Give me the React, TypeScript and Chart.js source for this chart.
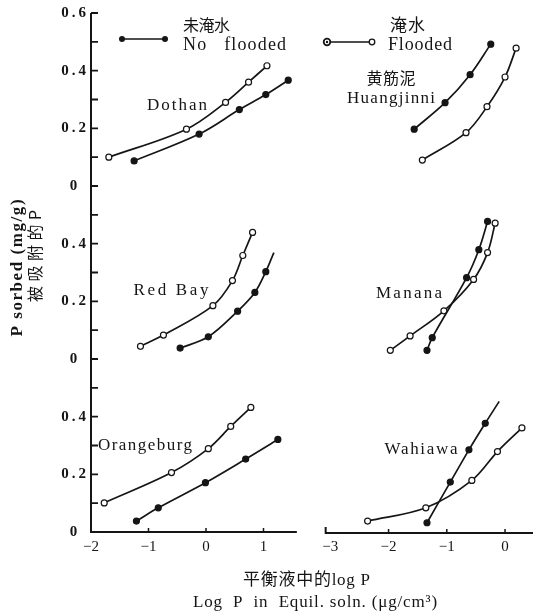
import React, { useEffect, useRef } from 'react';
import { Chart, registerables } from 'chart.js';

Chart.register(...registerables);

type P = [number, number];

// x tick values of the two columns, y tick values of each panel (0 to 0.6 step 0.1)
const leftXTicks = [-2, -1, 0, 1];
const rightXTicks = [-3, -2, -1, 0];
const yTicks = [0, 0.1, 0.2, 0.3, 0.4, 0.5, 0.6];
const yLabelled = [0, 0.2, 0.4];

// Dothan (top left)
const dothanUnflooded: P[] = [[-1.25, 0.087], [-0.12, 0.18], [0.58, 0.265], [1.04, 0.317], [1.43, 0.367]];
const dothanFlooded: P[] = [[-1.69, 0.1], [-0.34, 0.197], [0.34, 0.29], [0.74, 0.36], [1.06, 0.417]];
// Huangjinni (top right)
const huangUnflooded: P[] = [[-1.56, 0.197], [-1.03, 0.289], [-0.6, 0.386], [-0.245, 0.492]];
const huangFlooded: P[] = [[-1.42, 0.09], [-0.67, 0.185], [-0.31, 0.275], [0.0, 0.378], [0.19, 0.478]];
// Red Bay (middle left)
const redBayUnflooded: P[] = [[-0.45, 0.038], [0.04, 0.077], [0.55, 0.166], [0.85, 0.231], [1.04, 0.303], [1.18, 0.369]];
const redBayFlooded: P[] = [[-1.14, 0.044], [-0.74, 0.083], [0.12, 0.185], [0.46, 0.272], [0.64, 0.359], [0.81, 0.439]];
// Manana (middle right)
const mananaUnflooded: P[] = [[-1.34, 0.03], [-1.25, 0.074], [-0.66, 0.282], [-0.45, 0.379], [-0.3, 0.477]];
const mananaFlooded: P[] = [[-1.97, 0.03], [-1.63, 0.08], [-1.05, 0.167], [-0.54, 0.276], [-0.3, 0.369], [-0.17, 0.471]];
// Orangeburg (bottom left)
const orangeUnflooded: P[] = [[-1.21, 0.038], [-0.83, 0.084], [-0.01, 0.171], [0.69, 0.253], [1.25, 0.321]];
const orangeFlooded: P[] = [[-1.77, 0.101], [-0.6, 0.206], [0.04, 0.289], [0.43, 0.366], [0.78, 0.432]];
// Wahiawa (bottom right)
const wahiawaUnflooded: P[] = [[-1.34, 0.032], [-0.94, 0.173], [-0.62, 0.285], [-0.34, 0.377], [-0.1, 0.453]];
const wahiawaFlooded: P[] = [[-2.36, 0.038], [-1.36, 0.084], [-0.57, 0.179], [-0.13, 0.279], [0.29, 0.361]];

const INK = '#151515';
const SERIF = '"Liberation Serif", "DejaVu Serif", serif';
const CJK = '"Noto Sans CJK SC", sans-serif';

function series(data: P[], filled: boolean, xAxisID: string, yAxisID: string, bareEnd = false) {
  return {
    data: data.map(([x, y]) => ({ x, y })),
    showLine: true,
    borderColor: INK,
    borderWidth: 1.7,
    tension: 0.35,
    pointRadius: data.map((_, i) => (bareEnd && i === data.length - 1 ? 0 : 3)),
    pointBackgroundColor: filled ? INK : '#fff',
    pointBorderColor: INK,
    pointBorderWidth: 1.2,
    xAxisID,
    yAxisID,
    clip: false as const,
  };
}

function yScale(weight: number, isTop: boolean) {
  return {
    type: 'linear' as const,
    position: 'left' as const,
    stack: 'rows',
    stackWeight: 1,
    weight,
    min: 0,
    max: 0.6,
    grid: { display: false, drawTicks: false, tickLength: 0 },
    border: { display: false },
    afterBuildTicks: (s: any) => {
      s.ticks = yTicks.map((v) => ({ value: v }));
    },
    afterFit: (s: any) => {
      s.width = 91;
      s.paddingTop = 0;
      s.paddingBottom = 0;
    },
    ticks: {
      padding: 5,
      crossAlign: 'center' as const,
      color: INK,
      autoSkip: false,
      font: { family: SERIF, size: 15, weight: 'bold' as const },
      callback: (v: any) => {
        const n = Math.round(Number(v) * 10) / 10;
        const fmt = (x: number) => (x === 0 ? '0' : x.toFixed(1).replace('.', '\u2009.\u2009'));
        if (yLabelled.includes(n)) return fmt(n);
        if (isTop && n === 0.6) return fmt(0.6);
        return '';
      },
    },
  };
}

function xScale(min: number, max: number, tickVals: number[], weight: number, stackWeight: number) {
  return {
    type: 'linear' as const,
    position: 'bottom' as const,
    stack: 'cols',
    stackWeight,
    weight,
    min,
    max,
    grid: { display: false, drawTicks: false, tickLength: 0 },
    border: { display: false },
    afterBuildTicks: (s: any) => {
      s.ticks = tickVals.map((v) => ({ value: v }));
    },
    afterFit: (s: any) => {
      s.height = 81;
      s.paddingLeft = 0;
      s.paddingRight = 0;
    },
    ticks: {
      padding: 6,
      color: INK,
      autoSkip: false,
      maxRotation: 0,
      font: { family: SERIF, size: 15 },
      callback: (v: any) => {
        const n = Number(v);
        return n < 0 ? '\u2212' + Math.abs(n) : String(n);
      },
    },
  };
}

function fitText(ctx: any, text: string, cx: number, cy: number, target: number) {
  ctx.letterSpacing = '0px';
  const w = ctx.measureText(text).width;
  const n = Array.from(text).length;
  const ls = n > 1 ? (target - w) / (n - 1) : 0;
  ctx.letterSpacing = ls.toFixed(2) + 'px';
  ctx.textAlign = 'left';
  ctx.fillText(text, cx - target / 2, cy);
  ctx.letterSpacing = '0px';
}

const decor = {
  id: 'decor',
  afterDraw(chart: any) {
    const ctx: any = chart.ctx;
    const sc = chart.scales;
    const area = chart.chartArea;
    ctx.save();
    ctx.strokeStyle = INK;
    ctx.fillStyle = INK;

    // left y axis and inward ticks
    const ax = sc.yTop.right;
    const yTopPx = sc.yTop.getPixelForValue(0.6);
    const yBotPx = sc.yBot.getPixelForValue(0);
    ctx.fillRect(ax - 1, yTopPx, 2, yBotPx - yTopPx + 1);
    ctx.lineWidth = 1.8;
    ctx.beginPath();
    for (const id of ['yTop', 'yMid', 'yBot']) {
      for (const v of yTicks) {
        const py = sc[id].getPixelForValue(v);
        ctx.moveTo(ax, py);
        ctx.lineTo(ax + 7, py);
      }
    }
    ctx.stroke();

    // bottom x axes
    const by = area.bottom;
    const lx0 = sc.xL.getPixelForValue(-2);
    const lx1 = sc.xL.getPixelForValue(1.58);
    ctx.fillRect(lx0 - 1, by - 1, lx1 - lx0 + 1, 2);
    const rx0 = sc.xR.getPixelForValue(-3.08);
    ctx.fillRect(rx0, by, sc.xR.right - rx0, 2);
    ctx.fillRect(rx0 - 1, by - 5, 2, 7);
    ctx.lineWidth = 1.5;
    ctx.beginPath();
    for (const v of [-1, 0, 1]) {
      const px = sc.xL.getPixelForValue(v);
      ctx.moveTo(px, by);
      ctx.lineTo(px, by - 4);
    }
    for (const v of [-2, -1, 0]) {
      const px = sc.xR.getPixelForValue(v);
      ctx.moveTo(px, by + 1);
      ctx.lineTo(px, by - 3);
    }
    ctx.stroke();

    // panel labels
    ctx.textBaseline = 'middle';
    ctx.font = `17px ${SERIF}`;
    fitText(ctx, 'Dothan', 177, 106, 60);
    fitText(ctx, 'Huangjinni', 391, 99, 88);
    fitText(ctx, 'Red Bay', 171, 291, 75);
    fitText(ctx, 'Manana', 409, 294, 66);
    fitText(ctx, 'Orangeburg', 145, 446, 94);
    fitText(ctx, 'Wahiawa', 421, 450, 73);
    ctx.font = `16px ${CJK}`;
    fitText(ctx, '黄筋泥', 391, 78, 49);

    // legend
    ctx.lineWidth = 1.7;
    ctx.beginPath();
    ctx.moveTo(122, 39);
    ctx.lineTo(165, 39);
    ctx.moveTo(327, 42);
    ctx.lineTo(372, 42);
    ctx.stroke();
    for (const x of [122, 165]) {
      ctx.beginPath();
      ctx.arc(x, 39, 3, 0, Math.PI * 2);
      ctx.fill();
    }
    ctx.lineWidth = 1.3;
    ctx.fillStyle = '#fff';
    ctx.beginPath();
    ctx.arc(372, 42, 2.8, 0, Math.PI * 2);
    ctx.fill();
    ctx.stroke();
    ctx.lineWidth = 1.8;
    ctx.beginPath();
    ctx.arc(327, 42, 3.3, 0, Math.PI * 2);
    ctx.fill();
    ctx.stroke();
    ctx.fillStyle = INK;
    ctx.beginPath();
    ctx.arc(327, 42, 1.2, 0, Math.PI * 2);
    ctx.fill();

    ctx.font = `16px ${CJK}`;
    fitText(ctx, '未淹水', 206.5, 25, 47);
    ctx.font = `17px ${CJK}`;
    fitText(ctx, '淹水', 407.5, 25, 35);
    ctx.font = `18px ${SERIF}`;
    fitText(ctx, 'No   flooded', 234.5, 45, 103);
    fitText(ctx, 'Flooded', 420, 45, 64);

    // x title
    ctx.font = `17px ${SERIF}, ${CJK}`;
    fitText(ctx, '平衡液中的log P', 306.5, 581, 127);
    ctx.font = `17px ${SERIF}`;
    fitText(ctx, 'Log  P  in  Equil. soln. (\u03bcg/cm\u00b3)', 315, 603, 244);

    // y title
    ctx.save();
    ctx.translate(18, 268);
    ctx.rotate(-Math.PI / 2);
    ctx.font = `bold 17px ${SERIF}`;
    fitText(ctx, 'P sorbed (mg/g)', 0, 0, 137);
    ctx.restore();
    ctx.save();
    ctx.translate(35, 256);
    ctx.rotate(-Math.PI / 2);
    ctx.font = `16px ${CJK}`;
    fitText(ctx, '被吸附的P', 0, 0, 92);
    ctx.restore();

    ctx.restore();
  },
};

export default function App() {
  const ref = useRef<HTMLCanvasElement | null>(null);
  useEffect(() => {
    if (!ref.current) return;
    const chart = new Chart(ref.current, {
      type: 'scatter',
      data: {
        datasets: [
          series(dothanUnflooded, true, 'xL', 'yTop'),
          series(dothanFlooded, false, 'xL', 'yTop'),
          series(huangUnflooded, true, 'xR', 'yTop'),
          series(huangFlooded, false, 'xR', 'yTop'),
          series(redBayUnflooded, true, 'xL', 'yMid', true),
          series(redBayFlooded, false, 'xL', 'yMid'),
          series(mananaUnflooded, true, 'xR', 'yMid'),
          series(mananaFlooded, false, 'xR', 'yMid'),
          series(orangeUnflooded, true, 'xL', 'yBot'),
          series(orangeFlooded, false, 'xL', 'yBot'),
          series(wahiawaUnflooded, true, 'xR', 'yBot', true),
          series(wahiawaFlooded, false, 'xR', 'yBot'),
        ] as any,
      },
      options: {
        animation: false,
        responsive: false,
        maintainAspectRatio: false,
        devicePixelRatio: 1,
        layout: { autoPadding: false, padding: { top: 13, right: 0, left: 0, bottom: 0 } },
        plugins: { legend: { display: false }, tooltip: { enabled: false } },
        scales: {
          xL: xScale(-2, 2.0, leftXTicks, 1, 230),
          xR: xScale(-3.16, 0.48, rightXTicks, 2, 212),
          yTop: yScale(3, true),
          yMid: yScale(2, false),
          yBot: yScale(1, false),
        } as any,
      },
      plugins: [decor],
    });
    return () => chart.destroy();
  }, []);
  return (
    <div style={{ position: 'absolute', left: 0, top: 0, width: 533, height: 613, background: '#fff' }}>
      <canvas ref={ref} width={533} height={613} style={{ width: 533, height: 613, display: 'block' }} />
    </div>
  );
}
